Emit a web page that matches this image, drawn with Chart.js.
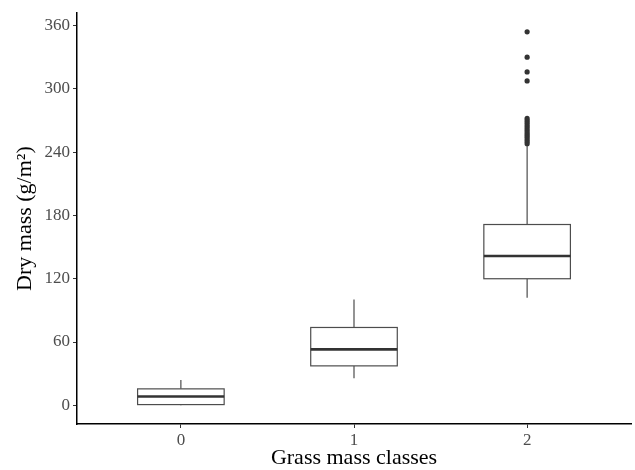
<!DOCTYPE html>
<html>
<head>
<meta charset="utf-8">
<script src="https://cdn.jsdelivr.net/npm/chart.js@4/dist/chart.umd.min.js"></script>
<style>
  html, body { margin: 0; padding: 0; background: #fff; }
  #wrap { width: 635px; height: 470px; }
</style>
</head>
<body>
<div id="wrap"><canvas id="boxChart" width="635" height="470"></canvas></div>
<script>
// ── Data ─────────────────────────────────────────────────────
const classes      = ['0', '1', '2'];
const classPos     = [0, 1, 2];
const whiskerLow   = [0, 25.6, 102];
const quart1       = [0.7, 37.4, 120];
const medians      = [8.4, 53, 141.5];
const quart3       = [15.6, 73.8, 171.4];
const whiskerHigh  = [24, 100.4, 246];
const outlierClass = 2;
const outliers     = [354, 330, 316, 307.5, 272, 270, 268, 266, 264, 262, 260, 258, 256, 254, 252, 250, 248];
const yTicks       = [0, 60, 120, 180, 240, 300, 360];

const boxHalf = 0.25;
const serif   = "'Liberation Serif', 'Times New Roman', serif";

// ── Box drawing plugin ───────────────────────────────────────
const boxPlugin = {
  id: 'boxes',
  beforeDatasetsDraw(chart) {
    const { ctx, scales: { x, y } } = chart;
    ctx.save();
    classPos.forEach((pos, i) => {
      const cx = x.getPixelForValue(pos);
      const xl = x.getPixelForValue(pos - boxHalf);
      const xr = x.getPixelForValue(pos + boxHalf);
      const yLo = y.getPixelForValue(whiskerLow[i]);
      const yQ1 = y.getPixelForValue(quart1[i]);
      const yMd = y.getPixelForValue(medians[i]);
      const yQ3 = y.getPixelForValue(quart3[i]);
      const yHi = y.getPixelForValue(whiskerHigh[i]);

      ctx.strokeStyle = '#4d4d4d';
      ctx.lineWidth = 1.2;

      // whiskers
      ctx.beginPath();
      ctx.moveTo(cx, yQ3); ctx.lineTo(cx, yHi);
      ctx.moveTo(cx, yQ1); ctx.lineTo(cx, yLo);
      ctx.stroke();

      // box
      ctx.fillStyle = '#fff';
      ctx.fillRect(xl, yQ3, xr - xl, yQ1 - yQ3);
      ctx.strokeRect(xl, yQ3, xr - xl, yQ1 - yQ3);

      // median
      ctx.strokeStyle = '#333';
      ctx.lineWidth = 2.6;
      ctx.beginPath();
      ctx.moveTo(xl, yMd); ctx.lineTo(xr, yMd);
      ctx.stroke();
    });
    ctx.restore();
  }
};

// ── Chart ────────────────────────────────────────────────────
const ctx = document.getElementById('boxChart').getContext('2d');
new Chart(ctx, {
  type: 'scatter',
  data: {
    datasets: [{
      label: 'Outliers',
      data: outliers.map(v => ({ x: classPos[outlierClass], y: v })),
      backgroundColor: '#333',
      borderWidth: 0,
      pointRadius: 2.6,
    }]
  },
  options: {
    responsive: false,
    animation: false,
    devicePixelRatio: 1,
    layout: { padding: { top: 6, right: -3, left: 0, bottom: 0 } },
    plugins: { legend: { display: false }, tooltip: { enabled: false } },
    scales: {
      x: {
        type: 'linear',
        min: -0.6,
        max: 2.6,
        afterBuildTicks: s => { s.ticks = classPos.map(v => ({ value: v })); },
        afterFit: s => { s.height = 46; },
        ticks: {
          callback: v => classes[classPos.indexOf(v)] ?? '',
          color: '#4d4d4d',
          font: { family: serif, size: 17 },
          padding: 2,
          maxRotation: 0,
        },
        grid: { drawOnChartArea: false, drawTicks: true, tickLength: 4, tickColor: '#333', tickWidth: 1 },
        border: { display: true, color: '#000', width: 1.5 },
        title: {
          display: true,
          text: 'Grass mass classes',
          color: '#000',
          font: { family: serif, size: 22 },
          padding: { top: 0, bottom: -1 },
        },
      },
      y: {
        min: -17.7,
        max: 371.7,
        afterBuildTicks: s => { s.ticks = yTicks.map(v => ({ value: v })); },
        afterFit: s => { s.width = 77; },
        ticks: {
          color: '#4d4d4d',
          font: { family: serif, size: 17 },
          padding: 3,
        },
        grid: { drawOnChartArea: false, drawTicks: true, tickLength: 4, tickColor: '#333', tickWidth: 1 },
        border: { display: true, color: '#000', width: 1.5 },
        title: {
          display: true,
          text: 'Dry mass (g/m²)',
          color: '#000',
          font: { family: serif, size: 22 },
          padding: { top: 12, bottom: 0 },
        },
      }
    }
  },
  plugins: [boxPlugin]
});
</script>
</body>
</html>
